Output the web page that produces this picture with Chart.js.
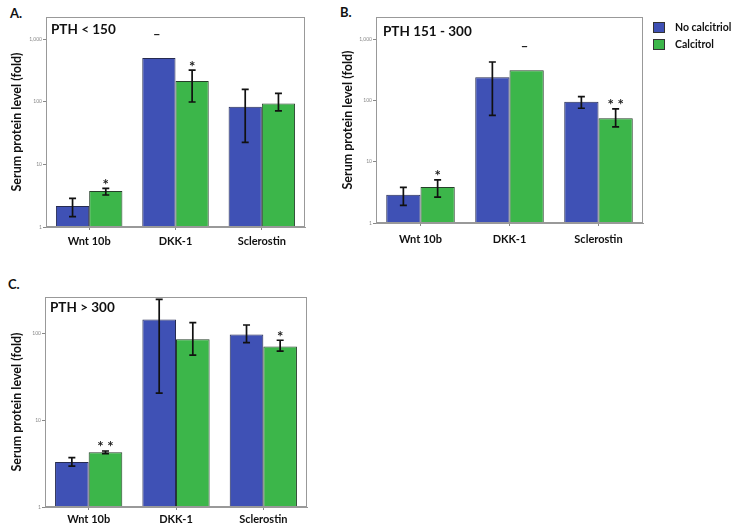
<!DOCTYPE html>
<html>
<head>
<meta charset="utf-8">
<script src="https://cdn.jsdelivr.net/npm/chart.js@4"></script>
<style>
  body { margin: 0; background: #fff; width: 732px; height: 529px; position: relative; overflow: hidden; }
  canvas { position: absolute; }
  .tag { position: absolute; font: bold 13px Lato, sans-serif; color: #111; }
</style>
</head>
<body>
<div class="tag" style="left:10px; top:5px;">A.</div>
<div class="tag" style="left:340px; top:4px;">B.</div>
<div class="tag" style="left:8px; top:276px;">C.</div>
<canvas id="chartA" width="340" height="260" style="left:0; top:0;"></canvas>
<canvas id="chartB" width="392" height="260" style="left:340px; top:0;"></canvas>
<canvas id="chartC" width="360" height="269" style="left:0; top:260px;"></canvas>
<script>
/* Serum protein levels by PTH group, log scale, with/without calcitriol. */

const categories = ['Wnt 10b', 'DKK-1', 'Sclerostin'];
const seriesLabels = ['No calcitriol', 'Calcitrol'];
const yTicks = [1, 10, 100, 1000];

// A. PTH < 150
const noCalcA = [2.16, 500, 83];
const noCalcErrA = [[1.46, 2.87], null, [22.4, 157]];
const calcA = [3.75, 215, 94];
const calcErrA = [[3.24, 4.14], [99, 319], [71.6, 136]];
const noCalcMarksA = ['', '–', ''];
const calcMarksA = ['*', '*', ''];

// B. PTH 151 - 300
const noCalcB = [2.89, 239, 95.6];
const noCalcErrB = [[1.94, 3.8], [57, 424], [74.6, 115]];
const calcB = [3.86, 310, 51];
const calcErrB = [[2.65, 5.07], null, [37, 72.7]];
const noCalcMarksB = ['', '', ''];
const calcMarksB = ['*', '–', '**'];

// C. PTH > 300
const noCalcC = [3.3, 146, 98];
const noCalcErrC = [[2.97, 3.71], [20.6, 249], [79, 126]];
const calcC = [4.27, 86, 71];
const calcErrC = [[4.13, 4.43], [56.6, 134], [63, 84]];
const noCalcMarksC = ['', '', ''];
const calcMarksC = ['**', '', '*'];

const BLUE = '#3f51b5';
const GREEN = '#3cb64a';
const FONT = 'Lato, sans-serif';

// draws the plot frame, error bars, significance marks, panel title and (optionally) legend
const panelDecor = {
    id: 'panelDecor',
    afterDatasetsDraw(chart, args, opts) {
        const {ctx, chartArea, scales} = chart;
        const y = scales.y;
        ctx.save();

        ctx.strokeStyle = '#999';
        ctx.lineWidth = 1;
        ctx.strokeRect(chartArea.left + 0.5, chartArea.top + 0.5,
            chartArea.right - chartArea.left - 1, chartArea.bottom - chartArea.top - 1);

        chart.data.datasets.forEach((ds, i) => {
            const meta = chart.getDatasetMeta(i);
            meta.data.forEach((bar, j) => {
                let anchor = bar.y;
                const err = ds.errors[j];
                if (err) {
                    const lo = y.getPixelForValue(err[0]);
                    const hi = y.getPixelForValue(err[1]);
                    ctx.strokeStyle = '#111';
                    ctx.lineWidth = 1.7;
                    ctx.beginPath();
                    ctx.moveTo(bar.x, lo); ctx.lineTo(bar.x, hi);
                    ctx.moveTo(bar.x - 3.5, lo); ctx.lineTo(bar.x + 3.5, lo);
                    ctx.moveTo(bar.x - 3.5, hi); ctx.lineTo(bar.x + 3.5, hi);
                    ctx.stroke();
                    anchor = hi;
                }
                const mark = ds.marks[j];
                if (mark) {
                    ctx.fillStyle = '#222';
                    ctx.textAlign = 'center';
                    ctx.textBaseline = 'alphabetic';
                    if (mark === '–') {
                        ctx.font = 'bold 13px ' + FONT;
                        ctx.fillText(mark, bar.x - 2, anchor - 19);
                    } else {
                        ctx.font = 'bold 15px ' + FONT;
                        ctx.fillText(mark.split('').join(' '), bar.x, anchor + 1.5);
                    }
                }
            });
        });

        ctx.fillStyle = '#111';
        ctx.font = 'bold 13.5px ' + FONT;
        ctx.textAlign = 'left';
        ctx.textBaseline = 'middle';
        ctx.fillText(opts.title, chartArea.left + opts.titleDx, chartArea.top + opts.titleDy);

        if (opts.legend) {
            ctx.font = 'bold 10.5px ' + FONT;
            chart.data.datasets.forEach((ds, i) => {
                const lx = chartArea.right + 10;
                const ly = 22 + i * 17;
                ctx.fillStyle = ds.backgroundColor;
                ctx.fillRect(lx, ly, 12, 11);
                ctx.strokeStyle = '#333';
                ctx.lineWidth = 1;
                ctx.strokeRect(lx + 0.5, ly + 0.5, 11, 10);
                ctx.fillStyle = '#111';
                ctx.fillText(ds.label, lx + 22, ly + 6);
            });
        }
        ctx.restore();
    }
};

function makePanel(canvasId, noCalc, noCalcErr, noCalcMarks, calc, calcErr, calcMarks, cfg) {
    return new Chart(document.getElementById(canvasId), {
        type: 'bar',
        data: {
            labels: categories,
            datasets: [
                {
                    label: seriesLabels[0],
                    data: noCalc,
                    errors: noCalcErr,
                    marks: noCalcMarks,
                    backgroundColor: BLUE,
                    borderColor: '#262b50',
                    borderWidth: 1,
                    categoryPercentage: 0.77,
                    barPercentage: 1.0
                },
                {
                    label: seriesLabels[1],
                    data: calc,
                    errors: calcErr,
                    marks: calcMarks,
                    backgroundColor: GREEN,
                    borderColor: '#263f2a',
                    borderWidth: 1,
                    categoryPercentage: 0.77,
                    barPercentage: 1.0
                }
            ]
        },
        options: {
            responsive: false,
            animation: false,
            layout: { padding: cfg.padding },
            scales: {
                x: {
                    afterFit: (scale) => { scale.height = cfg.xHeight; },
                    grid: { offset: false, drawOnChartArea: false, tickLength: 3, color: '#888' },
                    border: { display: true, color: '#999' },
                    ticks: {
                        padding: cfg.xPad,
                        color: '#111',
                        font: { family: FONT, weight: 'bold', size: 11 }
                    }
                },
                y: {
                    type: 'logarithmic',
                    min: 1,
                    max: cfg.yMax,
                    afterFit: (scale) => { scale.width = cfg.yWidth; },
                    afterBuildTicks: (scale) => {
                        scale.ticks = yTicks.filter(v => v <= scale.max).map(v => ({value: v}));
                    },
                    grid: { drawOnChartArea: false, tickLength: 3, color: '#888' },
                    border: { display: true, color: '#999' },
                    ticks: {
                        padding: 1,
                        color: '#888',
                        font: { family: FONT, size: 5 },
                        callback: (v) => Number(v).toLocaleString('en-US')
                    },
                    title: {
                        display: true,
                        text: 'Serum protein level (fold)',
                        color: '#111',
                        font: { family: FONT, weight: 'bold', size: 12.5 },
                        padding: { top: cfg.titlePad, bottom: 0 }
                    }
                }
            },
            plugins: {
                legend: { display: false },
                tooltip: { enabled: false },
                panelDecor: {
                    title: cfg.title,
                    titleDx: cfg.titleDx,
                    titleDy: cfg.titleDy,
                    legend: cfg.legend
                }
            }
        },
        plugins: [panelDecor]
    });
}

makePanel('chartA', noCalcA, noCalcErrA, noCalcMarksA, calcA, calcErrA, calcMarksA, {
    title: 'PTH < 150', titleDx: 5, titleDy: 13, legend: false,
    yMax: 2250, yWidth: 46, titlePad: 9.5, xHeight: 25, xPad: 5,
    padding: { left: 0, right: 35, top: 17, bottom: 8 }
});

makePanel('chartB', noCalcB, noCalcErrB, noCalcMarksB, calcB, calcErrB, calcMarksB, {
    title: 'PTH 151 - 300', titleDx: 7, titleDy: 15, legend: true,
    yMax: 2300, yWidth: 36, titlePad: 0, xHeight: 25, xPad: 7,
    padding: { left: 0, right: 89, top: 17, bottom: 12 }
});

makePanel('chartC', noCalcC, noCalcErrC, noCalcMarksC, calcC, calcErrC, calcMarksC, {
    title: 'PTH > 300', titleDx: 5, titleDy: 11, legend: false,
    yMax: 265, yWidth: 45, titlePad: 9.5, xHeight: 22, xPad: 2.5,
    padding: { left: 0, right: 53, top: 37, bottom: 0 }
});
</script>
</body>
</html>
